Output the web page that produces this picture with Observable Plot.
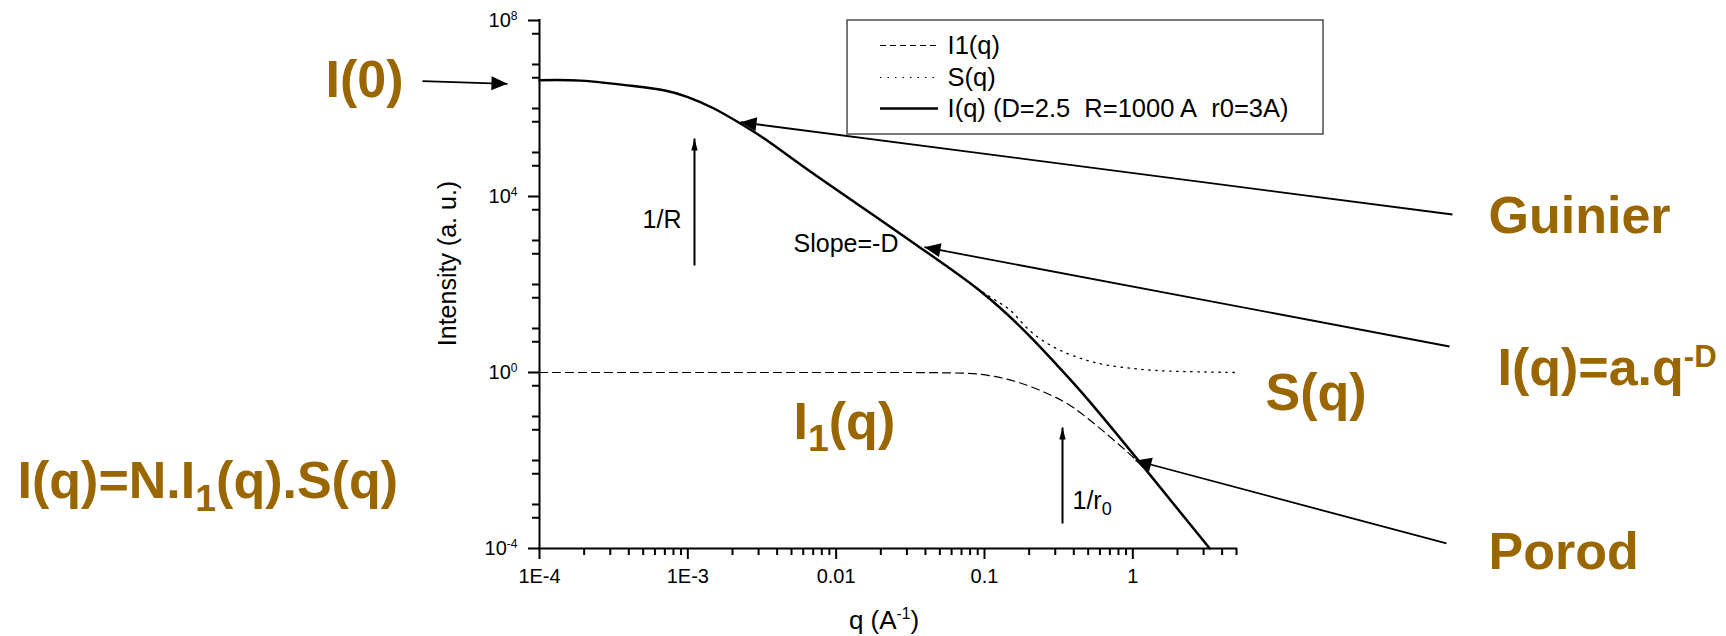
<!DOCTYPE html>
<html>
<head>
<meta charset="utf-8">
<script src="https://cdn.jsdelivr.net/npm/d3@7"></script>
<script src="https://cdn.jsdelivr.net/npm/@observablehq/plot@0.6"></script>
<style>
  html, body { margin: 0; padding: 0; background: #fff; }
  svg { display: block; }
</style>
</head>
<body>
<div id="chart"></div>
<script>
// ---------------- data ----------------
// I(q), solid curve
const qI = [1e-4, 1.9e-4, 4.3e-4, 7e-4, 1e-3, 1.5e-3, 2.26e-3, 3.5e-3, 7e-3, 0.02, 0.039, 0.094, 0.2, 0.31, 0.46, 1.0, 3.3];
const valI = [4.4e6, 4.3e6, 3.24e6, 2.56e6, 1.82e6, 1.0e6, 4.56e5, 1.78e5, 3.33e4, 2.9e3, 600, 70, 6.9, 1.44, 0.33, 0.0143, 1e-4];
// I1(q), dashed curve
const qI1 = [1e-4, 0.027, 0.069, 0.128, 0.239, 0.38, 0.561, 0.766, 1.045, 1.32];
const valI1 = [1, 1, 0.97, 0.765, 0.387, 0.176, 0.065, 0.0267, 0.0104, 0.0045];
// S(q), dotted curve
const qS = [1e-4, 1.9e-4, 4.3e-4, 7e-4, 1e-3, 1.5e-3, 2.26e-3, 3.5e-3, 7e-3, 0.02, 0.039, 0.0984, 0.15, 0.195, 0.266, 0.363, 0.496, 0.676, 1.01, 1.72, 4.93];
const valS = [4.4e6, 4.3e6, 3.24e6, 2.56e6, 1.82e6, 1.0e6, 4.56e5, 1.78e5, 3.33e4, 2.9e3, 600, 66, 25.6, 10, 4.55, 2.69, 1.87, 1.47, 1.23, 1.08, 1.0];

// axes
const xMajorTicks = [1e-4, 1e-3, 1e-2, 1e-1, 1];
const xTickLabels = ["1E-4", "1E-3", "0.01", "0.1", "1"];
const xMinorTicks = [2e-4, 3e-4, 4e-4, 5e-4, 6e-4, 7e-4, 8e-4, 9e-4,
  2e-3, 3e-3, 4e-3, 5e-3, 6e-3, 7e-3, 8e-3, 9e-3,
  0.02, 0.03, 0.04, 0.05, 0.06, 0.07, 0.08, 0.09,
  0.2, 0.3, 0.4, 0.5, 0.6, 0.7, 0.8, 0.9,
  2, 3, 4, 5];
const yMajorTicks = [1e-4, 1, 1e4, 1e8];
const yTickLabels = ["10^{-4}", "10^{0}", "10^{4}", "10^{8}"];
const yMinorTicks = [5e-4, 1e-3, 5e-3, 1e-2, 5e-2, 0.1, 0.5, 5, 10, 50, 100, 500, 1e3, 5e3,
  5e4, 1e5, 5e5, 1e6, 5e6, 1e7, 5e7];
const xTitle = "q (A^{-1})";
const yTitle = "Intensity (a. u.)";

// legend
const legendLabels = ["I1(q)", "S(q)", "I(q) (D=2.5\u00a0\u00a0R=1000 A\u00a0\u00a0r0=3A)"];

// annotations (texts)
const bigTexts = ["I(0)", "I(q)=N.I_{1}(q).S(q)", "I_{1}(q)", "S(q)", "Guinier", "I(q)=a.q^{-D}", "Porod"];
const smallTexts = ["1/R", "Slope=-D", "1/r_{0}"];

// ---------------- placement (data coordinates) ----------------
const bigTextPos = [
  {q: 3.61e-6, v: 1.78e6}, {q: 3.03e-8, v: 1.37e-3}, {q: 5.16e-3, v: 0.0316},
  {q: 7.84, v: 0.137}, {q: 250, v: 1443}, {q: 287.4, v: 0.507}, {q: 250, v: 3.51e-5}
];
const smallTextPos = [{q: 4.95e-4, v: 1874}, {q: 5.16e-3, v: 562}, {q: 0.392, v: 8.11e-4}];
const bigArrows = [
  {q1: 1.626e-5, v1: 4.17e6, q2: 6.08e-5, v2: 3.64e6},
  {q1: 142.9, v1: 3899, q2: 2.265e-3, v2: 4.88e5},
  {q1: 136.5, v1: 3.90, q2: 0.0394, v2: 705},
  {q1: 130.2, v1: 1.30e-4, q2: 1.042, v2: 0.01}
];
const smallArrows = [
  {q1: 1.109e-3, v1: 270, q2: 1.109e-3, v2: 2.08e5},
  {q1: 0.3357, v1: 3.70e-4, q2: 0.3357, v2: 0.0562}
];
const legendBox = [{q1: 0.01193, q2: 19.3, v1: 1e8, v2: 2.56e5}];
const legendRowV = [2.70e7, 5.07e6, 1e6];
const legendSample = {q1: 0.0199, q2: 0.049, qText: 0.0564};
const yTitlePos = [{q: 2.4e-5, v: 300, t: yTitle}];

// ---------------- build tables ----------------
const curveI = qI.map((q, i) => ({q, v: valI[i]}));
const curveI1 = qI1.map((q, i) => ({q, v: valI1[i]}));
const curveS = qS.map((q, i) => ({q, v: valS[i]}));
const bigTextData = bigTexts.map((t, i) => ({...bigTextPos[i], t}));
const smallTextData = smallTexts.map((t, i) => ({...smallTextPos[i], t}));
const legendRows = legendLabels.map((t, i) => ({t, v: legendRowV[i], ...legendSample}));

const brown = "#996600";
const font = "Liberation Sans, Arial, Helvetica, sans-serif";

const chart = Plot.plot({
  width: 1726,
  height: 636,
  marginLeft: 539,
  marginRight: 490,
  marginTop: 20,
  marginBottom: 88,
  style: {fontFamily: font, background: "#fff", color: "#000"},
  x: {type: "log", domain: [1e-4, 5], label: null},
  y: {type: "log", domain: [1e-4, 1e8], label: null},
  marks: [
    // legend box
    Plot.rect(legendBox, {x1: "q1", x2: "q2", y1: "v1", y2: "v2", fill: "#fff", stroke: "#404040", strokeWidth: 1.4}),
    Plot.ruleY([legendRows[0]], {y: "v", x1: "q1", x2: "q2", stroke: "#000", strokeWidth: 1.2, strokeDasharray: "6,4"}),
    Plot.ruleY([legendRows[1]], {y: "v", x1: "q1", x2: "q2", stroke: "#000", strokeWidth: 1.2, strokeDasharray: "1.5,6"}),
    Plot.ruleY([legendRows[2]], {y: "v", x1: "q1", x2: "q2", stroke: "#000", strokeWidth: 2.5}),
    Plot.text(legendRows, {x: "qText", y: "v", text: "t", textAnchor: "start", lineAnchor: "middle", fontSize: 25.5, fill: "#000"}),

    // curves
    Plot.line(curveS, {x: "q", y: "v", curve: "natural", stroke: "#000", strokeWidth: 1.3, strokeDasharray: "1.5,5.5"}),
    Plot.line(curveI1, {x: "q", y: "v", curve: "monotone-x", stroke: "#000", strokeWidth: 1.2, strokeDasharray: "8,5"}),
    Plot.line(curveI, {x: "q", y: "v", curve: "natural", stroke: "#000", strokeWidth: 2.5}),

    // axes
    Plot.axisX({ticks: xMinorTicks, tickSize: 7, tickFormat: () => "", strokeWidth: 2, label: null}),
    Plot.axisX({ticks: xMajorTicks, tickSize: 11, tickPadding: 9, strokeWidth: 2, fontSize: 20, label: null,
      tickFormat: (d) => xTickLabels[xMajorTicks.findIndex((t) => Math.abs(Math.log10(t) - Math.log10(d)) < 1e-6)]}),
    Plot.axisY({ticks: yMinorTicks, tickSize: 7, tickFormat: () => "", strokeWidth: 2, label: null}),
    Plot.axisY({ticks: yMajorTicks, tickSize: 11, tickPadding: 11, strokeWidth: 2, fontSize: 20, label: null,
      tickFormat: (d) => yTickLabels[yMajorTicks.findIndex((t) => Math.abs(Math.log10(t) - Math.log10(d)) < 1e-6)]}),
    Plot.ruleX([1e-4], {strokeWidth: 2, strokeLinecap: "square"}),
    Plot.ruleY([1e-4], {strokeWidth: 2, strokeLinecap: "square"}),
    Plot.text([xTitle], {frameAnchor: "bottom", textAnchor: "middle", dx: -4, dy: 80, lineAnchor: "bottom", fontSize: 26}),
    Plot.text(yTitlePos, {x: "q", y: "v", text: "t", textAnchor: "middle", rotate: -90, lineAnchor: "middle", fontSize: 25}),

    // arrows
    Plot.link(bigArrows, {x1: "q1", y1: "v1", x2: "q2", y2: "v2", stroke: "#000001", strokeWidth: 1.8}),
    Plot.link(smallArrows, {x1: "q1", y1: "v1", x2: "q2", y2: "v2", stroke: "#000002", strokeWidth: 2}),

    // annotation texts
    Plot.text(smallTextData, {x: "q", y: "v", text: "t", textAnchor: "start", lineAnchor: "bottom", fontSize: 25, fill: "#000"}),
    Plot.text(bigTextData, {x: "q", y: "v", text: "t", textAnchor: "start", lineAnchor: "bottom", fontSize: 52, fontWeight: "bold", fill: brown})
  ]
});

document.getElementById("chart").append(chart);

// rich text: _{sub} and ^{sup}
function richify(root) {
  const NS = "http://www.w3.org/2000/svg";
  root.querySelectorAll("text").forEach((t) => {
    const s = t.textContent;
    if (!/[_^]\{/.test(s)) return;
    const base = parseFloat(getComputedStyle(t).fontSize) || 16;
    while (t.firstChild) t.removeChild(t.firstChild);
    const re = /([_^])\{([^}]*)\}/g;
    let last = 0, m, cur = 0;
    const add = (txt, size, dy) => {
      const ts = document.createElementNS(NS, "tspan");
      if (size) ts.setAttribute("font-size", size);
      if (dy) ts.setAttribute("dy", dy);
      ts.textContent = txt;
      t.appendChild(ts);
    };
    while ((m = re.exec(s))) {
      if (m.index > last) { add(s.slice(last, m.index), null, -cur); cur = 0; }
      const sub = m[1] === "_";
      const target = sub ? 0.24 * base : -0.36 * base;
      add(m[2], (sub ? 0.72 : 0.6) * base, target - cur);
      cur = target;
      last = re.lastIndex;
    }
    if (last < s.length) add(s.slice(last), null, -cur);
  });
}
richify(chart);

// filled arrowheads
function addHead(svg, id, len, half) {
  const NS = "http://www.w3.org/2000/svg";
  let defs = svg.querySelector("defs");
  if (!defs) { defs = document.createElementNS(NS, "defs"); svg.insertBefore(defs, svg.firstChild); }
  const mk = document.createElementNS(NS, "marker");
  mk.setAttribute("id", id);
  mk.setAttribute("viewBox", `${-len} ${-half} ${len} ${2 * half}`);
  mk.setAttribute("refX", 0);
  mk.setAttribute("refY", 0);
  mk.setAttribute("markerWidth", len);
  mk.setAttribute("markerHeight", 2 * half);
  mk.setAttribute("markerUnits", "userSpaceOnUse");
  mk.setAttribute("orient", "auto");
  mk.setAttribute("overflow", "visible");
  const p = document.createElementNS(NS, "path");
  p.setAttribute("d", `M${-len},${-half}L0,0L${-len},${half}Z`);
  p.setAttribute("fill", "#000");
  mk.appendChild(p);
  defs.appendChild(mk);
}
addHead(chart, "bigHead", 16, 7);
addHead(chart, "smallHead", 12, 3.2);
chart.querySelectorAll('g[stroke="#000001"]').forEach((g) => {
  g.setAttribute("stroke", "#000");
  g.querySelectorAll("path").forEach((p) => p.setAttribute("marker-end", "url(#bigHead)"));
});
chart.querySelectorAll('g[stroke="#000002"]').forEach((g) => {
  g.setAttribute("stroke", "#000");
  g.querySelectorAll("path").forEach((p) => p.setAttribute("marker-end", "url(#smallHead)"));
});
</script>
</body>
</html>
